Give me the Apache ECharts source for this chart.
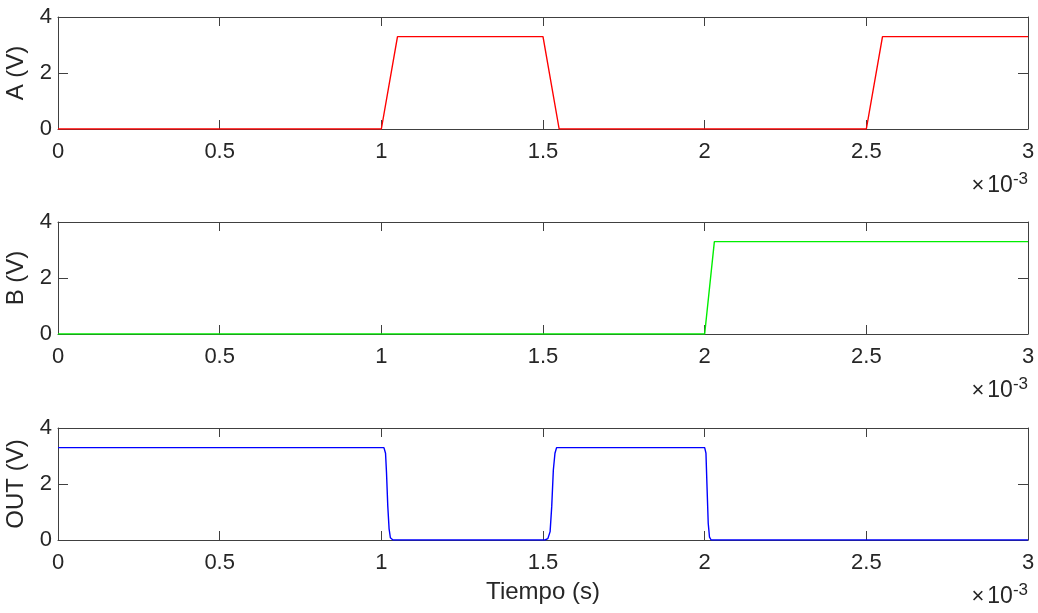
<!DOCTYPE html>
<html>
<head>
<meta charset="utf-8">
<script src="https://cdn.jsdelivr.net/npm/echarts@6/dist/echarts.min.js"></script>
<style>
  html, body { margin: 0; padding: 0; background: #fff; }
  #chart { width: 1038px; height: 613px; }
</style>
</head>
<body>
<div id="chart"></div>
<script>
// tiempo en unidades de 1e-3 s
var xTicks = [0, 0.5, 1, 1.5, 2, 2.5, 3];
var yTicks = [0, 2, 4];
var panelNames = ['A (V)', 'B (V)', 'OUT (V)'];

var tA = [0, 1.0, 1.05, 1.5, 1.55, 2.5, 2.55, 3];
var vA = [0, 0, 3.3, 3.3, 0, 0, 3.3, 3.3];

var tB = [0, 2.0, 2.03, 3];
var vB = [0, 0, 3.3, 3.3];

var tOut = [0, 1.008, 1.013, 1.016, 1.020, 1.024, 1.028, 1.036,
  1.506, 1.515, 1.522, 1.527, 1.532, 1.537, 1.542,
  2.0, 2.004, 2.007, 2.011, 2.015, 2.020, 3];
var vOut = [3.3, 3.3, 3.1, 2.4, 1.2, 0.4, 0.08, 0,
  0, 0.05, 0.3, 1.2, 2.5, 3.1, 3.3,
  3.3, 3.1, 2.0, 0.6, 0.1, 0, 0];

var colors = ['#ff0000', '#00ee00', '#0000ff'];
var axisColor = '#404040';
var textColor = '#262626';
var font = 'Liberation Sans, Arial, sans-serif';

function pairs(t, v) {
  return t.map(function (x, i) { return [x, v[i]]; });
}
var seriesData = [pairs(tA, vA), pairs(tB, vB), pairs(tOut, vOut)];

var gridTops = [17, 222, 428];
var gridH = 112;

var grids = [], xAxes = [], yAxes = [], series = [], graphics = [];

gridTops.forEach(function (top, i) {
  grids.push({ left: 58, top: top, width: 970, height: gridH,
    containLabel: false, outerBoundsMode: 'none' });

  // eje x inferior con etiquetas
  xAxes.push({
    type: 'value', gridIndex: i, min: 0, max: 3, interval: 0.5,
    axisLine: { show: true, onZero: false, lineStyle: { color: axisColor, width: 1 } },
    axisTick: { show: true, inside: true, length: 9, lineStyle: { color: axisColor } },
    axisLabel: { color: textColor, fontSize: 22, fontFamily: font, margin: 12,
      formatter: function (v) { return xTicks.indexOf(v) >= 0 ? String(v) : ''; } },
    splitLine: { show: false },
    name: i === 2 ? 'Tiempo (s)' : '',
    nameLocation: 'middle', nameGap: 40,
    nameTextStyle: { color: textColor, fontSize: 24, fontFamily: font }
  });
  // eje x superior (caja)
  xAxes.push({
    type: 'value', gridIndex: i, min: 0, max: 3, interval: 0.5, position: 'top',
    axisLine: { show: true, onZero: false, lineStyle: { color: axisColor, width: 1 } },
    axisTick: { show: true, inside: true, length: 9, lineStyle: { color: axisColor } },
    axisLabel: { show: false }, splitLine: { show: false }
  });

  yAxes.push({
    type: 'value', gridIndex: i, min: 0, max: 4, interval: 2,
    axisLine: { show: true, onZero: false, lineStyle: { color: axisColor, width: 1 } },
    axisTick: { show: true, inside: true, length: 10, lineStyle: { color: axisColor } },
    axisLabel: { color: textColor, fontSize: 22, fontFamily: font, margin: 6,
      formatter: function (v) { return yTicks.indexOf(v) >= 0 ? String(v) : ''; } },
    splitLine: { show: false },
    name: panelNames[i], nameLocation: 'middle', nameGap: 19,
    nameTextStyle: { color: textColor, fontSize: 24, fontFamily: font }
  });
  yAxes.push({
    type: 'value', gridIndex: i, min: 0, max: 4, interval: 2, position: 'right',
    axisLine: { show: true, onZero: false, lineStyle: { color: axisColor, width: 1 } },
    axisTick: { show: true, inside: true, length: 10, lineStyle: { color: axisColor } },
    axisLabel: { show: false }, splitLine: { show: false }
  });

  series.push({
    type: 'line', xAxisIndex: i * 2, yAxisIndex: i * 2,
    data: seriesData[i], showSymbol: false, symbol: 'none',
    lineStyle: { color: colors[i], width: 1.4 }, z: 5, animation: false
  });

  graphics.push({
    type: 'text', right: 10, top: top + gridH + 42,
    style: {
      text: '{a|×}{b|10}{c|-3}',
      rich: {
        a: { fontSize: 22, fontFamily: font, fill: textColor, padding: [0, 3, 0, 0] },
        b: { fontSize: 23, fontFamily: font, fill: textColor },
        c: { fontSize: 17, fontFamily: font, fill: textColor, verticalAlign: 'top', padding: [0, 0, 12, 0] }
      }
    }
  });
});

var chart = echarts.init(document.getElementById('chart'));
chart.setOption({
  animation: false,
  backgroundColor: '#ffffff',
  grid: grids,
  xAxis: xAxes,
  yAxis: yAxes,
  series: series,
  graphic: graphics
});
</script>
</body>
</html>
